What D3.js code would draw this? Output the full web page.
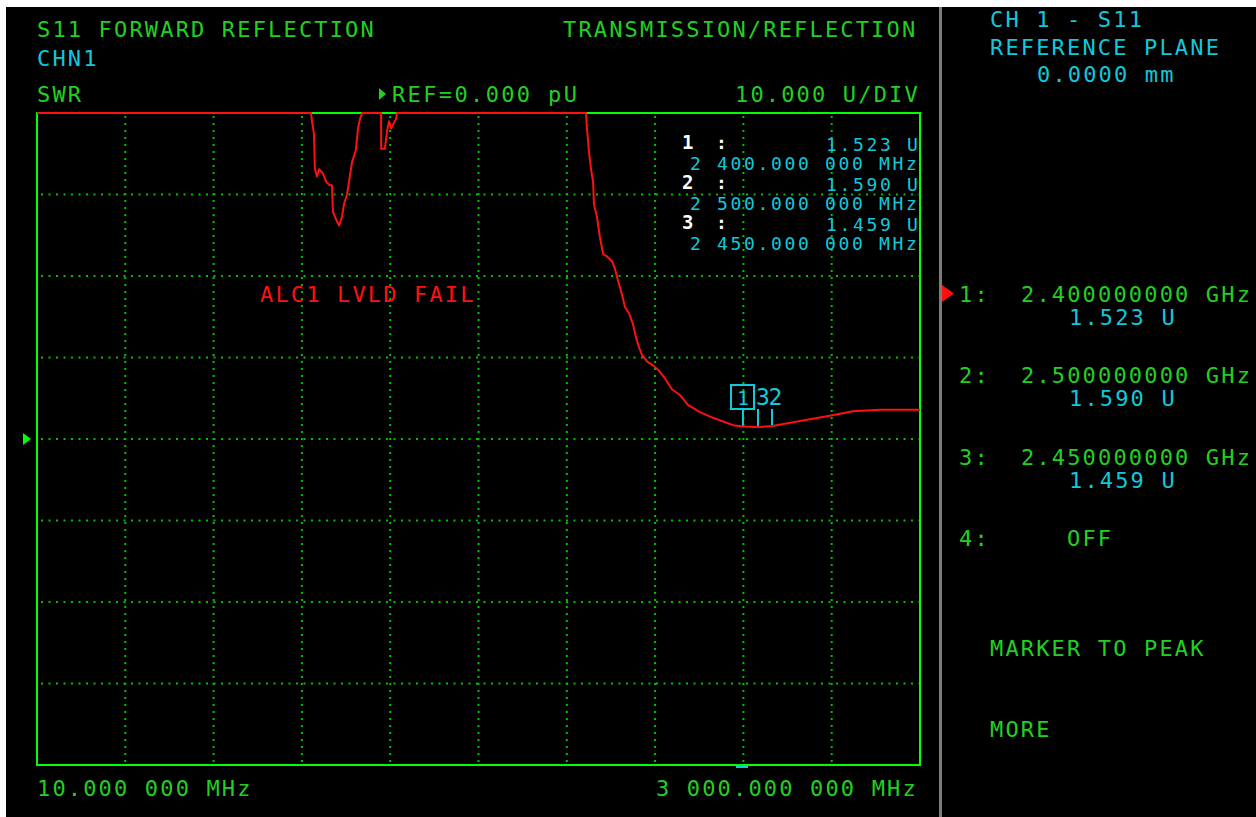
<!DOCTYPE html>
<html><head><meta charset="utf-8">
<script src="https://cdn.jsdelivr.net/npm/d3@7"></script>
<style>
html,body{margin:0;padding:0;background:#fff;overflow:hidden}
svg{display:block}
</style></head><body>
<script>
// ---- data ----
const startFreqMHz = 10, stopFreqMHz = 3000;
const refValue = 0, unitsPerDiv = 10, refDivFromTop = 4, nDivY = 8, nDivX = 10;
const traceFreqMHz = [10,938,941,948,951,958,965,978,989,999,1009,1012,1022,1033,1043,1050,1060,1070,1077,1090,1097,1104,1111,1175,1175.5,1188,1195,1202,1209,1216,1226,1229,1869,1872,1879,1886,1893,1896,1906,1916,1927,1940,1957,1967,1977,1991,2001,2015,2028,2038,2048,2059,2076,2093,2113,2137,2160,2187,2214,2255,2299,2367,2400,2450,2500,2594,2685,2773,2865,3000];
const traceSWR = [40,40,39.0,37.4,33.2,32.2,33.1,32.6,31.6,31.2,31.1,27.9,27.0,26.2,27.3,28.9,30.0,32.4,34.0,35.5,38.1,39.3,40,40,35.6,35.6,37.7,39.0,38.1,38.6,39.3,40,40,38.3,35.3,33.1,31.6,28.8,27.3,24.8,22.7,22.4,21.8,20.9,19.5,17.7,16.2,15.4,14.1,12.5,11.3,10.3,9.5,9.1,8.5,7.4,6.1,5.4,4.2,3.3,2.6,1.7,1.523,1.459,1.590,2.2,2.8,3.4,3.6,3.6];
const markerIds = [1,2,3];
const markerFreqMHz = [2400,2500,2450];
const markerSWR = [1.523,1.590,1.459];
const markerFreqText = ["2 400.000 000 MHz","2 500.000 000 MHz","2 450.000 000 MHz"];
const markerGHzText = ["2.400000000 GHz","2.500000000 GHz","2.450000000 GHz"];
const startLabel = "10.000 000 MHz", stopLabel = "3 000.000 000 MHz";

// ---- style ----
const W=1256,H=817;
const GREEN="#22d022", BRIGHT="#00ff00", CYAN="#12c8dc", RED="#ff1010", GRID="#00c000";
const FONT="DejaVu Sans Mono";
const L=37,R=920,T=113,B=765;

const svg=d3.select("body").append("svg").attr("width",W).attr("height",H);
svg.append("rect").attr("x",6).attr("y",7).attr("width",W-6).attr("height",H-7).attr("fill","#000");
svg.append("rect").attr("x",939).attr("y",7).attr("width",3).attr("height",H-7).attr("fill","#7c7c7c");

const x=d3.scaleLinear().domain([startFreqMHz,stopFreqMHz]).range([L,R]);
const yTop=refValue+refDivFromTop*unitsPerDiv, yBot=yTop-nDivY*unitsPerDiv;
const y=d3.scaleLinear().domain([yBot,yTop]).range([B,T]).clamp(true);

function txt(px,py,s,color,size,adv,weight){
  const cw=size*0.602;
  return svg.append("text").attr("x",px).attr("y",py).text(s)
    .attr("fill",color).attr("font-family",FONT).attr("font-size",size)
    .attr("font-weight",weight||"normal")
    .attr("letter-spacing",(adv-cw).toFixed(2)).style("white-space","pre");
}

// grid
const g=svg.append("g");
const xs=d3.range(1,nDivX).map(i=>x(startFreqMHz+i*(stopFreqMHz-startFreqMHz)/nDivX));
const ys=d3.range(1,nDivY).map(i=>y(yTop-i*unitsPerDiv));
g.selectAll("line.v").data(xs).join("line").attr("x1",d=>d).attr("x2",d=>d).attr("y1",T+3).attr("y2",B)
  .attr("stroke",GRID).attr("stroke-width",2).attr("stroke-dasharray","2,5");
g.selectAll("line.h").data(ys).join("line").attr("y1",d=>d).attr("y2",d=>d).attr("x1",L+4).attr("x2",R)
  .attr("stroke",GRID).attr("stroke-width",2).attr("stroke-dasharray","2,5.5");
// border
svg.append("rect").attr("x",L).attr("y",T).attr("width",R-L).attr("height",B-T)
  .attr("fill","none").attr("stroke",BRIGHT).attr("stroke-width",2);

// ref arrow
const yr=y(refValue);
svg.append("path").attr("d",`M23,${yr-6}L31,${yr}L23,${yr+6}Z`).attr("fill",BRIGHT);

// header texts
const A=15.4;
txt(37,37,"S11 FORWARD REFLECTION",GREEN,22,A);
txt(563,37,"TRANSMISSION/REFLECTION",GREEN,22,A);
txt(37,66,"CHN1",CYAN,22,A);
txt(37,102,"SWR",GREEN,22,A);
svg.append("path").attr("d","M379,88L386,94L379,100Z").attr("fill",GREEN);
txt(392,102,"REF=0.000 pU",GREEN,22,15.6);
txt(735,102,(unitsPerDiv.toFixed(3))+" U/DIV",GREEN,22,A);
txt(37,796,startLabel,GREEN,22,A);
txt(656,796,stopLabel,GREEN,22,A);
txt(260,302,"ALC1 LVLD FAIL",RED,22,A);

// right panel
txt(990,27,"CH 1 - S11",CYAN,22,A);
txt(990,55,"REFERENCE PLANE",CYAN,22,A);
txt(1037,82,"0.0000 mm",CYAN,22,A);
const rowY=[302,383,465];
markerIds.forEach((id,i)=>{
  txt(959,rowY[i],id+":",GREEN,22,A);
  txt(1021,rowY[i],markerGHzText[i],GREEN,22,A);
  txt(1069,rowY[i]+23,markerSWR[i].toFixed(3)+" U",CYAN,22,A);
});
svg.append("path").attr("d","M942,285L954,293.5L942,302Z").attr("fill",RED);
txt(959,546,"4:",GREEN,22,A);
txt(1067,546,"OFF",GREEN,22,A);
txt(990,656,"MARKER TO PEAK",GREEN,22,A);
txt(990,737,"MORE",GREEN,22,A);

// in-plot marker readout
markerIds.forEach((id,i)=>{
  const by=149+i*40;
  txt(682,by,String(id),"#ffffff",19,13.5,"bold");
  txt(716,by,":","#ffffff",18,13.5,"bold");
  txt(826,by+2,markerSWR[i].toFixed(3)+" U",CYAN,18,13.5);
  txt(690,by+21,markerFreqText[i],CYAN,18,13.5);
});

// trace
const pts=traceFreqMHz.map((f,i)=>[f,traceSWR[i]]);
svg.append("path").datum(pts).attr("fill","none").attr("stroke",RED).attr("stroke-width",2)
  .attr("stroke-linejoin","round").attr("d",d3.line().x(d=>x(d[0])).y(d=>y(d[1])));

// markers on trace
const topTick=409;
markerIds.forEach((id,i)=>{
  const mx=Math.round(x(markerFreqMHz[i]));
  svg.append("line").attr("x1",mx).attr("x2",mx).attr("y1",topTick).attr("y2",y(markerSWR[i])-1)
    .attr("stroke",CYAN).attr("stroke-width",2);
});
const m1x=Math.round(x(markerFreqMHz[0]));
svg.append("rect").attr("x",m1x-12).attr("y",385).attr("width",23).attr("height",24)
  .attr("fill","none").attr("stroke",CYAN).attr("stroke-width",2);
svg.append("text").attr("x",m1x).attr("y",405).text("1").attr("text-anchor","middle")
  .attr("fill",CYAN).attr("font-family",FONT).attr("font-size",20);
txt(m1x+13,405,"32",CYAN,23,12.5);
svg.append("rect").attr("x",m1x-7).attr("y",765).attr("width",12).attr("height",3).attr("fill",CYAN);
</script>
</body></html>
